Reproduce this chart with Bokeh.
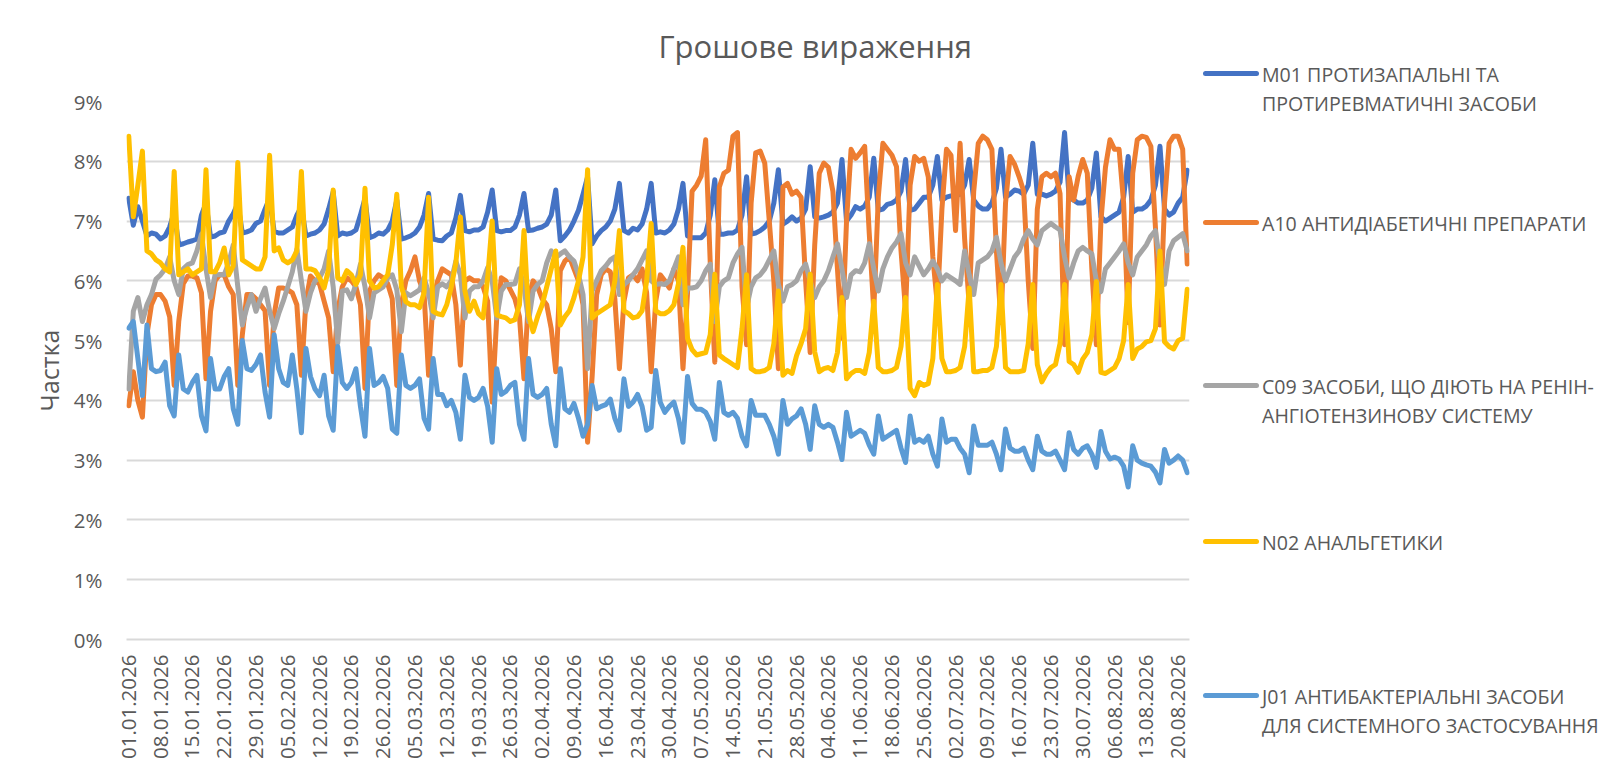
from math import pi

import pandas as pd
from bokeh.embed import file_html
from bokeh.layouts import row
from bokeh.models import (
    ColumnDataSource,
    DatetimeTickFormatter,
    Div,
    FixedTicker,
    PrintfTickFormatter,
    Range1d,
    Title,
)
from bokeh.plotting import figure
from bokeh.resources import INLINE

FONT = "Open Sans"
TEXT = "#595959"
WIDTH, HEIGHT = 1630, 762
PLOT_W = 1195
FRAME_L, FRAME_R, FRAME_T, FRAME_B = 126, 1189, 101, 646

# daily points, 01.01.2026 .. 22.08.2026; ticks on every 7th day (Thursdays)
dates = pd.date_range("2026-01-01", "2026-08-22", freq="D")
tick_dates = dates[::7]

# shares, %  (rows = weeks starting on the tick date: Thu .. Wed)
m01 = [
    7.38, 6.93, 7.24, 7.00, 6.75, 6.80, 6.78,
    6.70, 6.75, 6.90, 7.15, 6.60, 6.62, 6.65,
    6.67, 6.70, 7.10, 7.30, 6.73, 6.75, 6.80,
    6.82, 7.00, 7.12, 7.30, 6.80, 6.82, 6.85,
    6.96, 7.00, 7.20, 7.38, 6.83, 6.80, 6.80,
    6.85, 6.90, 7.10, 7.24, 6.75, 6.78, 6.80,
    6.85, 6.95, 7.20, 7.49, 6.75, 6.80, 6.78,
    6.80, 6.85, 7.10, 7.38, 6.72, 6.75, 6.80,
    6.78, 6.85, 7.00, 7.35, 6.70, 6.72, 6.75,
    6.80, 6.90, 7.10, 7.46, 6.70, 6.68, 6.67,
    6.75, 6.80, 7.05, 7.43, 6.84, 6.82, 6.85,
    6.85, 6.90, 7.15, 7.52, 6.84, 6.82, 6.84,
    6.84, 6.90, 7.10, 7.46, 6.84, 6.85, 6.88,
    6.90, 6.95, 7.10, 7.52, 6.67, 6.75, 6.85,
    7.00, 7.18, 7.45, 7.74, 6.62, 6.75, 6.84,
    6.90, 7.00, 7.20, 7.63, 6.84, 6.80, 6.88,
    6.85, 6.95, 7.20, 7.63, 6.80, 6.82, 6.80,
    6.85, 6.95, 7.20, 7.63, 6.75, 6.72, 6.72,
    6.72, 6.80, 7.10, 7.69, 6.78, 6.78, 6.80,
    6.80, 6.85, 7.10, 7.74, 6.78, 6.80, 6.84,
    6.90, 7.00, 7.30, 7.86, 6.95, 7.00, 7.07,
    7.00, 7.05, 7.20, 7.91, 7.07, 7.05, 7.07,
    7.10, 7.15, 7.30, 8.03, 7.00, 7.10, 7.24,
    7.20, 7.25, 7.40, 8.05, 7.18, 7.20, 7.28,
    7.30, 7.35, 7.50, 8.03, 7.18, 7.20, 7.30,
    7.40, 7.40, 7.60, 8.08, 7.35, 7.40, 7.42,
    7.42, 7.45, 7.60, 8.03, 7.35, 7.25, 7.20,
    7.20, 7.30, 7.55, 8.20, 7.40, 7.45, 7.52,
    7.50, 7.45, 7.60, 8.30, 7.45, 7.45, 7.42,
    7.45, 7.50, 7.65, 8.48, 7.40, 7.35, 7.30,
    7.30, 7.35, 7.55, 8.14, 7.07, 7.00, 7.05,
    7.10, 7.15, 7.40, 8.08, 7.15, 7.20, 7.20,
    7.25, 7.35, 7.60, 8.25, 7.20, 7.10, 7.15,
    7.30, 7.40, 7.85,
]

a10 = [
    3.91, 4.48, 4.00, 3.72, 5.10, 5.60, 5.77,
    5.77, 5.66, 5.40, 4.25, 5.32, 5.95, 6.08,
    6.08, 6.05, 5.80, 4.36, 5.49, 6.00, 6.10,
    6.10, 5.90, 5.77, 4.25, 5.10, 5.77, 5.77,
    5.70, 5.60, 5.50, 4.25, 5.43, 5.88, 5.88,
    5.85, 5.80, 5.60, 4.42, 5.66, 6.08, 6.00,
    5.95, 5.66, 5.38, 4.48, 5.50, 5.90, 6.05,
    6.00, 5.90, 5.60, 4.20, 5.83, 6.00, 6.10,
    6.05, 5.95, 5.70, 4.25, 5.60, 6.00, 6.17,
    6.40, 6.00, 5.80, 4.42, 5.70, 6.00, 6.20,
    6.15, 6.10, 5.60, 4.59, 6.00, 6.05, 6.00,
    6.00, 5.90, 5.66, 3.97, 5.38, 6.05, 6.00,
    5.85, 5.70, 5.40, 4.36, 5.72, 6.00, 5.90,
    5.70, 5.60, 5.20, 4.48, 6.17, 6.33, 6.40,
    6.20, 6.00, 5.60, 3.30, 4.40, 5.77, 6.10,
    6.20, 6.15, 5.70, 4.53, 5.66, 6.05, 6.10,
    6.00, 6.20, 5.80, 4.48, 5.66, 6.10, 6.00,
    5.88, 6.20, 6.00, 4.53, 5.80, 7.50, 7.60,
    7.75, 8.36, 6.30, 4.64, 7.57, 7.80, 7.85,
    8.42, 8.48, 5.90, 4.93, 7.30, 8.14, 8.17,
    7.97, 7.00, 6.00, 4.53, 7.57, 7.63, 7.45,
    7.50, 7.40, 6.00, 4.80, 6.60, 7.80, 7.97,
    7.90, 7.50, 6.20, 5.04, 7.00, 8.20, 8.05,
    8.14, 8.25, 6.80, 5.50, 7.40, 8.30, 8.20,
    8.10, 7.91, 6.50, 5.50, 7.60, 8.08, 8.00,
    8.05, 7.74, 6.40, 5.60, 7.20, 8.20, 8.10,
    6.84, 8.30, 6.70, 5.60, 7.50, 8.30, 8.42,
    8.36, 8.20, 6.50, 5.30, 7.30, 8.08, 7.95,
    7.74, 7.50, 6.00, 4.87, 7.20, 7.74, 7.80,
    7.74, 7.80, 7.46, 4.93, 7.74, 7.35, 7.75,
    8.03, 7.80, 6.20, 4.93, 7.00, 7.90, 8.36,
    8.20, 8.20, 7.30, 5.30, 7.80, 8.36, 8.42,
    8.40, 8.25, 6.90, 5.26, 7.30, 8.30, 8.42,
    8.42, 8.20, 6.28,
]

c09 = [
    4.19, 5.49, 5.72, 5.32, 5.60, 5.77, 6.03,
    6.10, 6.20, 6.40, 6.00, 5.77, 6.20, 6.27,
    6.30, 6.50, 6.78, 6.20, 5.72, 6.10, 6.10,
    6.10, 6.30, 6.60, 5.90, 5.26, 5.55, 5.77,
    5.49, 5.70, 5.88, 5.50, 5.20, 5.45, 5.66,
    5.90, 6.15, 6.53, 6.00, 5.49, 5.80, 6.00,
    6.05, 6.20, 6.50, 5.90, 4.96, 5.83, 5.85,
    5.70, 5.95, 6.28, 5.90, 5.38, 5.80, 5.85,
    5.90, 6.05, 6.10, 5.85, 5.15, 5.80, 5.75,
    5.80, 5.85, 6.05, 5.80, 5.38, 5.90, 5.95,
    5.90, 6.00, 6.33, 6.10, 5.38, 5.83, 5.90,
    5.90, 6.00, 6.22, 6.00, 5.38, 5.83, 5.94,
    5.94, 5.95, 6.20, 5.90, 5.32, 5.83, 5.94,
    6.00, 6.30, 6.50, 6.39, 6.45, 6.50, 6.40,
    6.33, 6.10, 5.77, 4.53, 5.83, 6.00, 6.17,
    6.25, 6.35, 6.40, 5.77, 5.94, 6.00, 6.10,
    6.20, 6.35, 6.50, 6.00, 5.94, 5.95, 5.94,
    6.00, 6.20, 6.40, 5.60, 5.88, 5.88, 5.90,
    6.00, 6.17, 6.28, 5.32, 5.90, 6.00, 6.05,
    6.30, 6.45, 6.56, 5.55, 5.90, 6.05, 6.10,
    6.20, 6.35, 6.50, 5.94, 5.66, 5.90, 5.94,
    6.00, 6.17, 6.28, 6.00, 5.72, 5.90, 6.00,
    6.17, 6.40, 6.62, 6.20, 5.72, 6.10, 6.17,
    6.15, 6.30, 6.62, 6.20, 5.83, 6.20, 6.40,
    6.55, 6.65, 6.79, 6.30, 6.10, 6.40, 6.25,
    6.10, 6.20, 6.33, 6.20, 6.00, 6.10, 6.05,
    6.00, 5.94, 6.50, 6.10, 5.77, 6.30, 6.35,
    6.40, 6.50, 6.73, 6.30, 6.00, 6.20, 6.40,
    6.50, 6.70, 6.84, 6.70, 6.60, 6.84, 6.90,
    6.96, 6.90, 6.85, 6.40, 6.05, 6.30, 6.50,
    6.56, 6.50, 6.45, 6.00, 5.82, 6.20, 6.30,
    6.40, 6.50, 6.62, 6.30, 6.10, 6.40, 6.50,
    6.60, 6.75, 6.84, 6.30, 5.94, 6.50, 6.67,
    6.73, 6.79, 6.50,
]

n02 = [
    8.42, 7.07, 7.60, 8.17, 6.50, 6.45, 6.35,
    6.30, 6.20, 6.15, 7.83, 6.10, 6.15, 6.20,
    6.10, 6.15, 6.20, 7.86, 6.15, 6.15, 6.30,
    6.55, 6.10, 6.25, 7.98, 6.35, 6.30, 6.25,
    6.20, 6.20, 6.40, 8.10, 6.50, 6.55, 6.35,
    6.30, 6.35, 6.50, 7.83, 6.20, 6.20, 6.17,
    6.05, 5.88, 6.20, 7.52, 6.05, 6.00, 6.17,
    6.10, 5.94, 6.10, 7.55, 6.00, 5.88, 5.90,
    6.00, 6.10, 6.60, 7.45, 5.90, 5.65, 5.60,
    5.60, 5.55, 5.80, 7.40, 5.49, 5.45, 5.43,
    5.60, 5.90, 6.30, 7.07, 5.83, 5.49, 5.66,
    5.45, 5.38, 6.05, 7.00, 5.43, 5.40, 5.38,
    5.32, 5.35, 5.60, 6.84, 5.43, 5.15, 5.40,
    5.60, 5.90, 6.20, 6.50, 5.26, 5.40, 5.50,
    5.72, 6.00, 6.40, 7.86, 5.38, 5.45, 5.50,
    5.55, 5.60, 6.00, 6.84, 5.50, 5.45, 5.38,
    5.40, 5.50, 6.00, 6.96, 5.50, 5.45, 5.45,
    5.50, 5.60, 5.95, 6.56, 5.04, 4.85, 4.76,
    4.78, 4.80, 5.10, 6.11, 4.76, 4.70, 4.65,
    4.60, 4.55, 5.20, 6.10, 4.53, 4.48, 4.48,
    4.50, 4.55, 4.95, 5.83, 4.42, 4.50, 4.45,
    4.75, 4.95, 5.20, 6.11, 4.81, 4.48, 4.53,
    4.55, 4.50, 4.80, 5.72, 4.36, 4.45, 4.50,
    4.50, 4.45, 4.80, 5.66, 4.55, 4.48, 4.48,
    4.50, 4.55, 4.90, 5.72, 4.20, 4.08, 4.30,
    4.25, 4.28, 4.70, 5.94, 4.70, 4.48, 4.48,
    4.50, 4.55, 4.90, 5.88, 4.48, 4.48, 4.50,
    4.50, 4.55, 4.90, 5.94, 4.55, 4.48, 4.48,
    4.48, 4.50, 4.95, 5.94, 4.60, 4.31, 4.45,
    4.55, 4.60, 4.95, 5.94, 4.65, 4.60, 4.47,
    4.69, 4.80, 5.10, 5.99, 4.47, 4.45, 4.50,
    4.55, 4.70, 5.00, 5.94, 4.70, 4.86, 4.90,
    4.98, 5.00, 5.20, 6.50, 4.98, 4.90, 4.86,
    5.00, 5.04, 5.86,
]

j01 = [
    5.21, 5.32, 4.70, 4.08, 5.26, 4.53, 4.48,
    4.50, 4.64, 3.91, 3.74, 4.76, 4.19, 4.14,
    4.30, 4.42, 3.74, 3.49, 4.70, 4.19, 4.19,
    4.40, 4.53, 3.86, 3.60, 5.00, 4.53, 4.50,
    4.60, 4.76, 4.14, 3.72, 5.10, 4.53, 4.30,
    4.25, 4.76, 4.19, 3.46, 4.87, 4.40, 4.19,
    4.08, 4.42, 3.74, 3.50, 4.90, 4.30, 4.20,
    4.30, 4.53, 3.90, 3.40, 4.87, 4.25, 4.30,
    4.40, 4.20, 3.52, 3.45, 4.76, 4.25, 4.20,
    4.25, 4.36, 3.70, 3.52, 4.70, 4.10, 4.10,
    3.91, 4.00, 3.80, 3.35, 4.42, 4.05, 4.00,
    4.05, 4.20, 3.90, 3.30, 4.53, 4.10, 4.15,
    4.25, 4.30, 3.60, 3.35, 4.70, 4.10, 4.05,
    4.10, 4.20, 3.60, 3.24, 4.53, 3.86, 3.80,
    3.95, 3.70, 3.40, 3.60, 4.25, 3.86, 3.90,
    3.93, 4.02, 3.70, 3.50, 4.36, 3.90, 3.97,
    4.10, 3.90, 3.50, 3.55, 4.50, 3.97, 3.80,
    3.90, 3.97, 3.70, 3.30, 4.40, 3.95, 3.85,
    3.85, 3.80, 3.65, 3.35, 4.30, 3.80, 3.75,
    3.80, 3.70, 3.40, 3.24, 4.00, 3.75, 3.75,
    3.75, 3.60, 3.40, 3.10, 4.00, 3.60, 3.69,
    3.74, 3.86, 3.60, 3.18, 3.91, 3.60, 3.55,
    3.60, 3.55, 3.30, 3.01, 3.80, 3.40, 3.45,
    3.50, 3.45, 3.25, 3.10, 3.74, 3.35, 3.40,
    3.45, 3.50, 3.20, 2.96, 3.74, 3.30, 3.35,
    3.30, 3.40, 3.10, 2.90, 3.69, 3.30, 3.35,
    3.35, 3.20, 3.10, 2.79, 3.57, 3.25, 3.25,
    3.25, 3.30, 3.10, 2.84, 3.52, 3.20, 3.15,
    3.15, 3.20, 3.00, 2.84, 3.40, 3.15, 3.10,
    3.10, 3.15, 3.00, 2.84, 3.46, 3.18, 3.10,
    3.20, 3.24, 3.10, 2.88, 3.48, 3.15, 3.02,
    3.05, 3.02, 2.90, 2.55, 3.24, 3.00, 2.95,
    2.92, 2.90, 2.80, 2.62, 3.18, 2.95, 3.00,
    3.07, 3.00, 2.79,
]

# legend order == drawing order (last one on top)
series = [
    ("m01", m01, "M01 ПРОТИЗАПАЛЬНІ ТА\nПРОТИРЕВМАТИЧНІ ЗАСОБИ", "#4472C4"),
    ("a10", a10, "A10 АНТИДІАБЕТИЧНІ ПРЕПАРАТИ", "#ED7D31"),
    ("c09", c09, "C09 ЗАСОБИ, ЩО ДІЮТЬ НА РЕНІН-\nАНГІОТЕНЗИНОВУ СИСТЕМУ", "#A5A5A5"),
    ("n02", n02, "N02 АНАЛЬГЕТИКИ", "#FFC000"),
    ("j01", j01, "J01 АНТИБАКТЕРІАЛЬНІ ЗАСОБИ\nДЛЯ СИСТЕМНОГО ЗАСТОСУВАННЯ", "#5B9BD5"),
]
# vertical centre of each legend entry's first line, px from the top
legend_y = [74, 223, 386, 542, 696]

src = ColumnDataSource(dict(date=dates, **{k: v for k, v, _, _ in series}))

p = figure(
    width=PLOT_W,
    height=HEIGHT,
    title="Грошове вираження",
    x_axis_type="datetime",
    x_range=Range1d(dates[0] - pd.Timedelta(hours=12), dates[-1] + pd.Timedelta(hours=12)),
    y_range=Range1d(0, 9),
    toolbar_location=None,
    output_backend="svg",
    min_border_left=FRAME_L,
    min_border_right=PLOT_W - FRAME_R,
    min_border_top=FRAME_T,
    min_border_bottom=HEIGHT - FRAME_B,
)
p.outline_line_color = None
p.xgrid.grid_line_color = None
p.ygrid.grid_line_color = "#D9D9D9"
p.ygrid.grid_line_width = 2

p.title.align = "left"
p.title.offset = 532
p.title.standoff = 10
p.title.text_font = FONT
p.title.text_font_size = "31px"
p.title.text_font_style = "normal"
p.title.text_color = TEXT
# empty strip between the title and the frame
p.add_layout(Title(text="\u00a0", text_font_size="10px", standoff=17), "above")

p.yaxis.ticker = FixedTicker(ticks=list(range(10)))
p.yaxis.formatter = PrintfTickFormatter(format="%d%%")
p.yaxis.axis_label = "Частка"
p.yaxis.axis_label_standoff = 5
p.yaxis.axis_label_text_font = FONT
p.yaxis.axis_label_text_font_size = "25px"
p.yaxis.axis_label_text_font_style = "normal"
p.yaxis.axis_label_text_color = TEXT
p.yaxis.axis_line_color = None
p.yaxis.major_label_standoff = 18
p.yaxis.major_label_text_font_size = "20.5px"

tick_ms = [(d - pd.Timestamp("1970-01-01")) // pd.Timedelta(milliseconds=1) for d in tick_dates]
p.xaxis.ticker = FixedTicker(ticks=tick_ms)
p.xaxis.formatter = DatetimeTickFormatter(days="%d.%m.%Y", months="%d.%m.%Y", years="%d.%m.%Y")
p.xaxis.major_label_orientation = pi / 2
p.xaxis.major_label_standoff = 9
p.xaxis.major_label_text_font_size = "20.5px"
p.xaxis.axis_line_color = "#D9D9D9"
p.xaxis.axis_line_width = 2

for ax in (p.xaxis, p.yaxis):
    ax.major_tick_line_color = None
    ax.minor_tick_line_color = None
    ax.major_label_text_font = FONT
    ax.major_label_text_color = TEXT

for key, _, label, color in series:
    p.line("date", key, source=src, line_color=color, line_width=5,
           line_join="round", line_cap="round")

# legend panel on the right
LH = 29
parts = []
for (key, _, label, color), y in zip(series, legend_y):
    parts.append(
        f'<div style="position:absolute;left:8px;top:{y - 3.5}px;width:56px;height:5px;'
        f'border-radius:2.5px;background:{color};"></div>'
    )
    parts.append(
        f'<div style="position:absolute;left:67px;top:{y - LH / 2}px;line-height:{LH}px;'
        f'white-space:nowrap;">{"<br>".join(label.split(chr(10)))}</div>'
    )
legend = Div(
    text=(
        f'<div style="position:relative;width:{WIDTH - PLOT_W}px;height:{HEIGHT}px;'
        f"font-family:'{FONT}';font-size:19.6px;color:{TEXT};\">" + "".join(parts) + "</div>"
    ),
    width=WIDTH - PLOT_W,
    height=HEIGHT,
    margin=0,
)

layout = row(p, legend)
open("out.html", "w", encoding="utf-8").write(file_html(layout, INLINE, "Грошове вираження"))
